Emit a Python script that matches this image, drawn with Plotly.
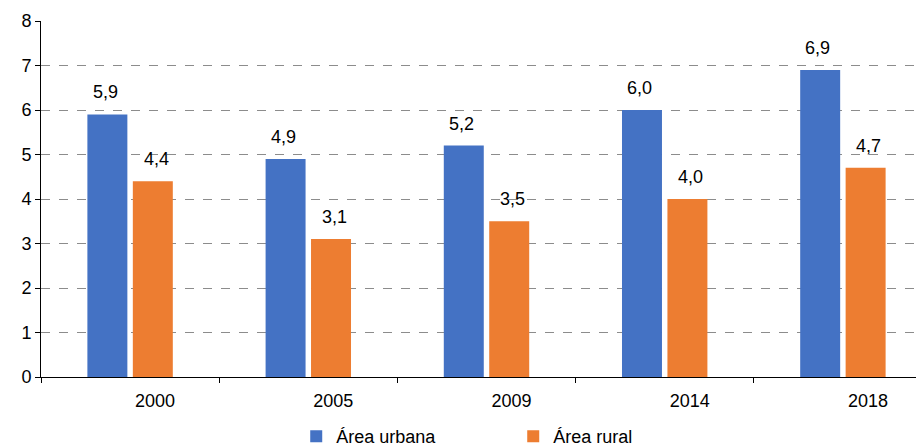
import plotly.graph_objects as go

years = ["2000", "2005", "2009", "2014", "2018"]
urbana = [5.9, 4.9, 5.2, 6.0, 6.9]
rural = [4.4, 3.1, 3.5, 4.0, 4.7]
y_ticks = [0, 1, 2, 3, 4, 5, 6, 7, 8]

BLUE = "#4472C4"
ORANGE = "#ED7D31"
FONT = "Liberation Sans, Arial, sans-serif"
FS = 18

fig = go.Figure()
fig.add_trace(go.Bar(x=years, y=urbana, name="Área urbana", marker_color=BLUE,
                     marker_line_width=0))
fig.add_trace(go.Bar(x=years, y=rural, name="Área rural", marker_color=ORANGE,
                     marker_line_width=0))

annotations = []
for i, (u, r) in enumerate(zip(urbana, rural)):
    for val, dx in ((u, -25), (r, 26)):
        annotations.append(dict(x=i, y=val, xref="x", yref="y",
                                text=f"{val:.1f}".replace(".", ","),
                                showarrow=False, xshift=dx, yshift=22,
                                font=dict(size=FS, color="#000000", family=FONT)))

fig.update_layout(
    width=924, height=447,
    margin=dict(l=33, r=0, t=13, b=78, autoexpand=False),
    paper_bgcolor="white", plot_bgcolor="white",
    barmode="group", bargap=0.49, bargroupgap=0.12,
    font=dict(family=FONT, size=FS, color="#000000"),
    annotations=annotations,
    showlegend=True,
    legend=dict(orientation="h", x=0.53, xanchor="center", y=-0.115, yanchor="top",
                font=dict(size=FS, family=FONT), entrywidth=172, entrywidthmode="pixels",
                itemwidth=30, traceorder="normal"),
    xaxis=dict(type="category", range=[-0.5, 4.5], showline=True, linecolor="#000000",
               linewidth=1, ticks="outside", tickson="boundaries", ticklen=5,
               tickcolor="#000000", showgrid=False, tickfont=dict(size=FS),
               ticklabelshift=25, ticklabelstandoff=7, automargin=False),
    yaxis=dict(range=[0, 8], tickvals=y_ticks, showline=True, linecolor="#000000",
               linewidth=1, ticks="outside", ticklen=5, tickcolor="#000000",
               showgrid=True, gridcolor="#8c8c8c", griddash="dash", gridwidth=1,
               zeroline=False, tickfont=dict(size=FS), automargin=False),
)

fig.write_html("out.html")
